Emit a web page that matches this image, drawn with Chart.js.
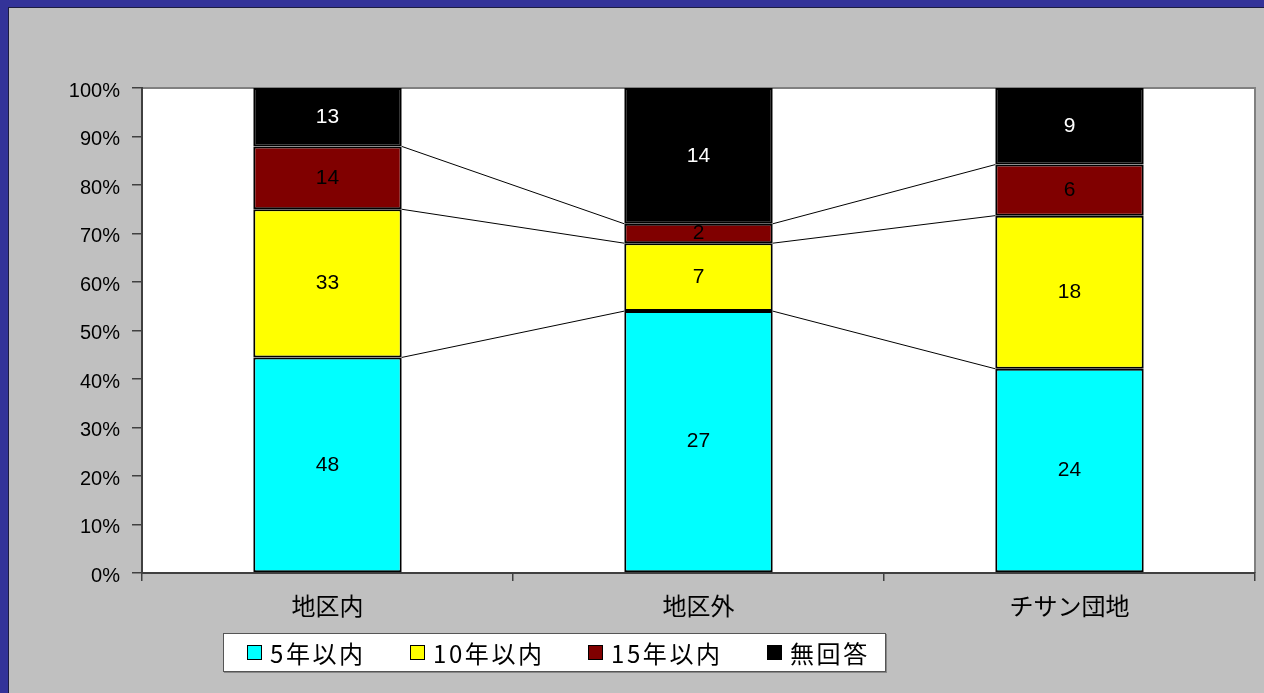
<!DOCTYPE html>
<html lang="ja">
<head>
<meta charset="utf-8">
<title>居住年数</title>
<script src="https://cdn.jsdelivr.net/npm/chart.js@4"></script>
<style>
  html, body { margin: 0; padding: 0; }
  body { width: 1264px; height: 693px; background: #333399; position: relative; overflow: hidden; }
  #panel {
    position: absolute; left: 8px; top: 7px; right: 0; bottom: 0;
    background: #c0c0c0; border-left: 1px solid #1c1c40; border-top: 1px solid #1c1c40;
  }
  #chart { position: absolute; left: 0; top: 0; }
  #legend {
    position: absolute; left: 223px; top: 633px; width: 661px; height: 37px;
    background: #fff; border: 1px solid #555; box-shadow: 1px 1px 0 #888;
  }
  .item {
    position: absolute; top: 0; height: 37px; display: flex; align-items: center;
    font: 24px "Noto Sans CJK JP", sans-serif; letter-spacing: 2.6px; color: #000;
  }
  .box { width: 13px; height: 13px; border: 1.5px solid #000; margin-right: 8px; }
</style>
</head>
<body>
<div id="panel"></div>
<canvas id="chart" width="1264" height="693"></canvas>
<div id="legend"></div>
<script>
// 居住年数別の回答数
const categories = ['地区内', '地区外', 'チサン団地'];
const seriesNames = ['5年以内', '10年以内', '15年以内', '無回答'];
const within5 = [48, 27, 24];
const within10 = [33, 7, 18];
const within15 = [14, 2, 6];
const noAnswer = [13, 14, 9];
const yTicks = [0, 10, 20, 30, 40, 50, 60, 70, 80, 90, 100];

const counts = [within5, within10, within15, noAnswer];
const colors = ['#00ffff', '#ffff00', '#800000', '#000000'];
const labelColors = ['#000', '#000', '#000', '#fff'];

// 100%積み上げ用に各カテゴリの合計で割る
const totals = categories.map((c, i) => counts.reduce((s, arr) => s + arr[i], 0));
const toPercent = arr => arr.map((v, i) => v / totals[i] * 100);

const datasets = counts.map((arr, k) => ({
  label: seriesNames[k],
  data: toPercent(arr),
  raw: arr,
  backgroundColor: colors[k],
  borderColor: '#000',
  borderWidth: 2,
  borderSkipped: false,
  barPercentage: 0.4,
  categoryPercentage: 1.0
}));

// プロットエリア（白背景＋灰色の枠）
const plotArea = {
  id: 'plotArea',
  beforeDraw(chart) {
    const { ctx, chartArea: a } = chart;
    ctx.save();
    ctx.fillStyle = '#fff';
    ctx.fillRect(a.left, a.top, a.right - a.left, a.bottom - a.top);
    ctx.strokeStyle = '#808080';
    ctx.lineWidth = 2;
    ctx.beginPath();
    ctx.moveTo(a.left, a.top);
    ctx.lineTo(a.right, a.top);
    ctx.lineTo(a.right, a.bottom);
    ctx.stroke();
    ctx.restore();
  }
};

// 区分線：隣り合う棒の境界同士を結ぶ
const seriesLines = {
  id: 'seriesLines',
  afterDatasetsDraw(chart) {
    const { ctx } = chart;
    ctx.save();
    ctx.strokeStyle = '#000';
    ctx.lineWidth = 1;
    for (let d = 0; d < chart.data.datasets.length - 1; d++) {
      const bars = chart.getDatasetMeta(d).data;
      for (let i = 0; i < bars.length - 1; i++) {
        const a = bars[i], b = bars[i + 1];
        ctx.beginPath();
        ctx.moveTo(a.x + a.width / 2, a.y);
        ctx.lineTo(b.x - b.width / 2, b.y);
        ctx.stroke();
      }
    }
    ctx.restore();
  }
};

// 棒の中央に回答数を表示
const valueLabels = {
  id: 'valueLabels',
  afterDatasetsDraw(chart) {
    const { ctx } = chart;
    ctx.save();
    ctx.font = '21px "Liberation Sans", Arial, sans-serif';
    ctx.textAlign = 'center';
    ctx.textBaseline = 'middle';
    chart.data.datasets.forEach((ds, d) => {
      ctx.fillStyle = labelColors[d];
      chart.getDatasetMeta(d).data.forEach((bar, i) => {
        ctx.fillText(String(ds.raw[i]), bar.x, (bar.y + bar.base) / 2);
      });
    });
    ctx.restore();
  }
};

new Chart(document.getElementById('chart'), {
  type: 'bar',
  data: { labels: categories, datasets },
  options: {
    responsive: false,
    animation: false,
    layout: { padding: { left: 0, top: 88, right: 9, bottom: 60 } },
    plugins: { legend: { display: false }, tooltip: { enabled: false } },
    scales: {
      x: {
        stacked: true,
        grid: { offset: true, drawOnChartArea: false, tickLength: 8, color: '#404040', lineWidth: 1.5 },
        border: { color: '#404040', width: 2 },
        ticks: { color: '#000', padding: 10, font: { family: '"Noto Sans CJK JP", sans-serif', size: 24 } },
        afterFit(scale) { scale.height = 60; }
      },
      y: {
        stacked: true,
        min: 0,
        max: 100,
        afterBuildTicks(scale) { scale.ticks = yTicks.map(v => ({ value: v })); },
        grid: { drawOnChartArea: false, tickLength: 10, color: '#404040', lineWidth: 1.5 },
        border: { color: '#404040', width: 2 },
        ticks: {
          color: '#000',
          padding: 12,
          labelOffset: 3,
          font: { family: '"Liberation Sans", Arial, sans-serif', size: 20 },
          callback: v => v + '%'
        },
        afterFit(scale) { scale.width = 142; }
      }
    }
  },
  plugins: [plotArea, seriesLines, valueLabels]
});

// 凡例
const legend = document.getElementById('legend');
const itemLeft = [23, 186, 364, 543];
seriesNames.forEach((name, k) => {
  const item = document.createElement('div');
  item.className = 'item';
  item.style.left = itemLeft[k] + 'px';
  const box = document.createElement('span');
  box.className = 'box';
  box.style.background = colors[k];
  item.appendChild(box);
  item.appendChild(document.createTextNode(name));
  legend.appendChild(item);
});
</script>
</body>
</html>
